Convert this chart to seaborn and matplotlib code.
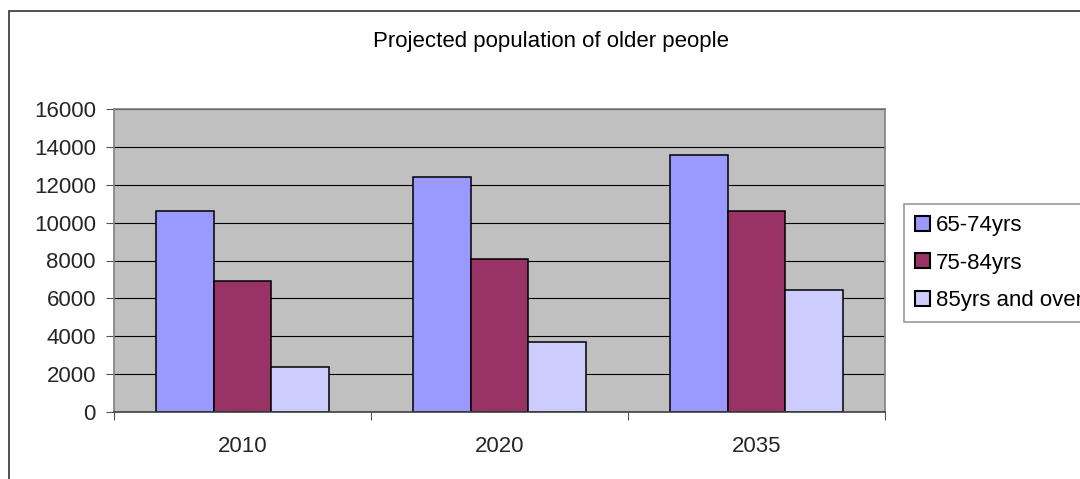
import pandas as pd
import matplotlib
matplotlib.use("Agg")
import matplotlib.pyplot as plt
from matplotlib.patches import Patch, Rectangle
import seaborn as sns

# Chart values
years = ["2010", "2020", "2035"]
age_groups = ["65-74yrs", "75-84yrs", "85yrs and over"]
pop_65_74 = [10630, 12390, 13560]
pop_75_84 = [6920, 8080, 10610]
pop_85_plus = [2360, 3700, 6440]
y_ticks = [0, 2000, 4000, 6000, 8000, 10000, 12000, 14000, 16000]

colors = {"65-74yrs": "#9999FF", "75-84yrs": "#993366", "85yrs and over": "#CCCCFF"}

# Long-form table for seaborn
df = pd.DataFrame({
    "Year": years * 3,
    "Age group": [age_groups[0]] * 3 + [age_groups[1]] * 3 + [age_groups[2]] * 3,
    "Population": pop_65_74 + pop_75_84 + pop_85_plus,
})

sns.set_theme(style="white")
plt.rcParams["font.family"] = ["Liberation Sans", "DejaVu Sans"]
plt.rcParams["text.color"] = "black"

fig = plt.figure(figsize=(10.8, 4.79), dpi=100)
W, H = 1080, 479
ax = fig.add_axes([114 / W, (H - 412) / H, (885 - 114) / W, (412 - 109) / H])
ax.set_facecolor("#C0C0C0")

sns.barplot(data=df, x="Year", y="Population", hue="Age group", order=years,
            hue_order=age_groups, palette=colors, saturation=1, width=0.67,
            gap=0, edgecolor="black", linewidth=1.1, legend=False, ax=ax)

# Axes styling, Excel-like
ax.set_ylim(0, 16000)
ax.set_xlim(-0.5, 2.5)
ax.set_yticks(y_ticks)
ax.set_yticklabels([str(v) for v in y_ticks], fontsize=16)
ax.set_xticks(range(len(years)))
ax.set_xticklabels(years, fontsize=16)
ax.set_xticks([-0.5, 0.5, 1.5, 2.5], minor=True)
ax.tick_params(axis="x", which="major", length=0, pad=17)
ax.tick_params(axis="x", which="minor", length=5.5, width=0.8, color="#555555", direction="out", bottom=True)
ax.tick_params(axis="y", length=5.5, width=0.8, color="#555555", direction="out", left=True, pad=7.5)
ax.set_xlabel("")
ax.set_ylabel("")
ax.set_axisbelow(True)
ax.yaxis.grid(True, color="black", linewidth=0.8)
ax.xaxis.grid(False)
for side in ["top", "right", "left"]:
    ax.spines[side].set_color("#808080")
    ax.spines[side].set_linewidth(1.2)
ax.spines["bottom"].set_color("#404040")
ax.spines["bottom"].set_linewidth(1.2)

# Title
fig.text(551 / W, 1 - 41 / H, "Projected population of older people",
         ha="center", va="center", fontsize=16)

# Legend outside right, partly cut by the figure edge
handles = [Patch(facecolor=colors[g], edgecolor="black", linewidth=1.5) for g in age_groups]
leg = ax.legend(handles, age_groups, loc="upper left",
                bbox_to_anchor=(904 / W, 1 - 204 / H), bbox_transform=fig.transFigure,
                borderaxespad=0, fontsize=16, frameon=True, fancybox=False,
                handlelength=0.65, handleheight=0.65, handletextpad=0.3,
                labelspacing=0.74, borderpad=0.5)
leg.get_frame().set_edgecolor("#808080")
leg.get_frame().set_linewidth(1.2)

# Outer chart border (right and bottom edges fall outside the picture)
fig.patches.append(Rectangle((9 / W, -0.1), 1.2, 1 - 11 / H + 0.1, transform=fig.transFigure,
                             fill=False, edgecolor="#333333", linewidth=1.2, figure=fig))

fig.savefig("out.png", dpi=100)
